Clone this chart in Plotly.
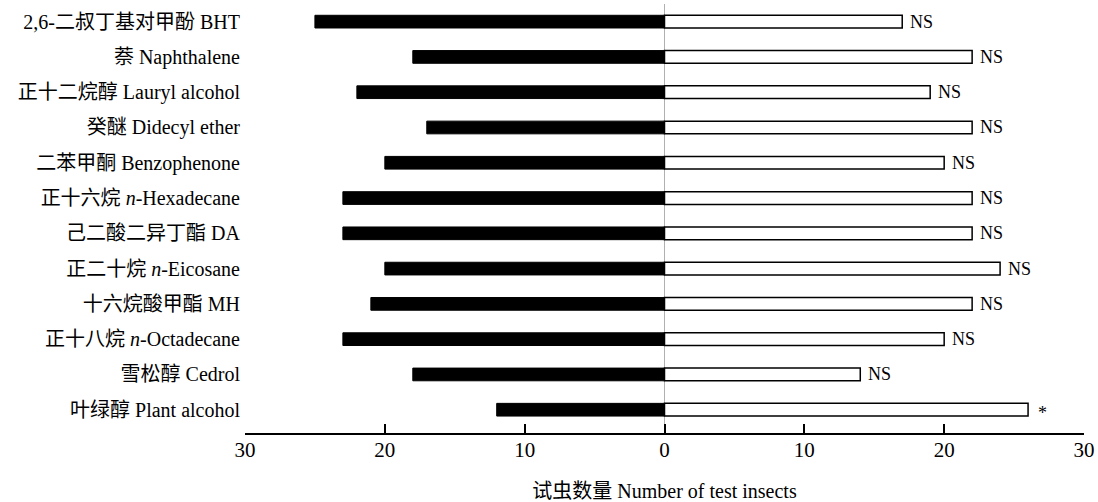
import plotly.graph_objects as go

categories = [
    "2,6-二叔丁基对甲酚 BHT",
    "萘 Naphthalene",
    "正十二烷醇 Lauryl alcohol",
    "癸醚 Didecyl ether",
    "二苯甲酮 Benzophenone",
    "正十六烷 <i>n</i>-Hexadecane",
    "己二酸二异丁酯 DA",
    "正二十烷 <i>n</i>-Eicosane",
    "十六烷酸甲酯 MH",
    "正十八烷 <i>n</i>-Octadecane",
    "雪松醇 Cedrol",
    "叶绿醇 Plant alcohol",
]
left_values = [25, 18, 22, 17, 20, 23, 23, 20, 21, 23, 18, 12]
right_values = [17, 22, 19, 22, 20, 22, 22, 24, 22, 20, 14, 26]
significance = ["NS", "NS", "NS", "NS", "NS", "NS", "NS", "NS", "NS", "NS", "NS", "*"]
tick_values = [-30, -20, -10, 0, 10, 20, 30]
tick_labels = ["30", "20", "10", "0", "10", "20", "30"]
x_title = "试虫数量 Number of test insects"

FONT = "Liberation Serif, Times New Roman, Noto Sans CJK SC, serif"

fig = go.Figure()
fig.add_trace(go.Bar(
    y=categories, x=[-v for v in left_values], orientation="h",
    marker=dict(color="black", line=dict(color="black", width=1)),
    width=0.36, showlegend=False,
))
fig.add_trace(go.Bar(
    y=categories, x=right_values, orientation="h",
    marker=dict(color="white", line=dict(color="black", width=1.5)),
    width=0.36, showlegend=False,
))

for cat, v, s in zip(categories, right_values, significance):
    fig.add_annotation(
        x=v, y=cat, text=s, showarrow=False, xanchor="left",
        xshift=6 if s == "NS" else 8, yshift=0 if s == "NS" else -3,
        font=dict(family=FONT, size=18, color="black"),
    )

fig.update_layout(
    width=1098, height=502,
    margin=dict(l=245, r=14, t=4, b=69),
    plot_bgcolor="white", paper_bgcolor="white",
    barmode="overlay",
    font=dict(family=FONT, size=20, color="black"),
    xaxis=dict(
        range=[-30, 30], tickvals=tick_values, ticktext=tick_labels,
        showline=True, linecolor="black", linewidth=2,
        ticks="inside", ticklen=9, tickwidth=1.5, tickcolor="black",
        showgrid=False, zeroline=True, zerolinecolor="#b0b0b0", zerolinewidth=1,
        title=dict(text=x_title, font=dict(family=FONT, size=20), standoff=24),
        tickfont=dict(family=FONT, size=21),
        ticklabelstandoff=-3,
        automargin=False,
    ),
    yaxis=dict(
        type="category", range=[11.66, -0.5],
        showline=False, showgrid=False, zeroline=False, ticks="",
        tickfont=dict(family=FONT, size=20),
        ticklabelstandoff=4, automargin=False,
    ),
)

fig.write_html(
    "out.html",
    config={"displayModeBar": False},
    post_script=(
        "document.documentElement.style.overflow='hidden';"
        "document.body.style.overflow='hidden';"
        "document.body.style.margin='0';"
    ),
)
